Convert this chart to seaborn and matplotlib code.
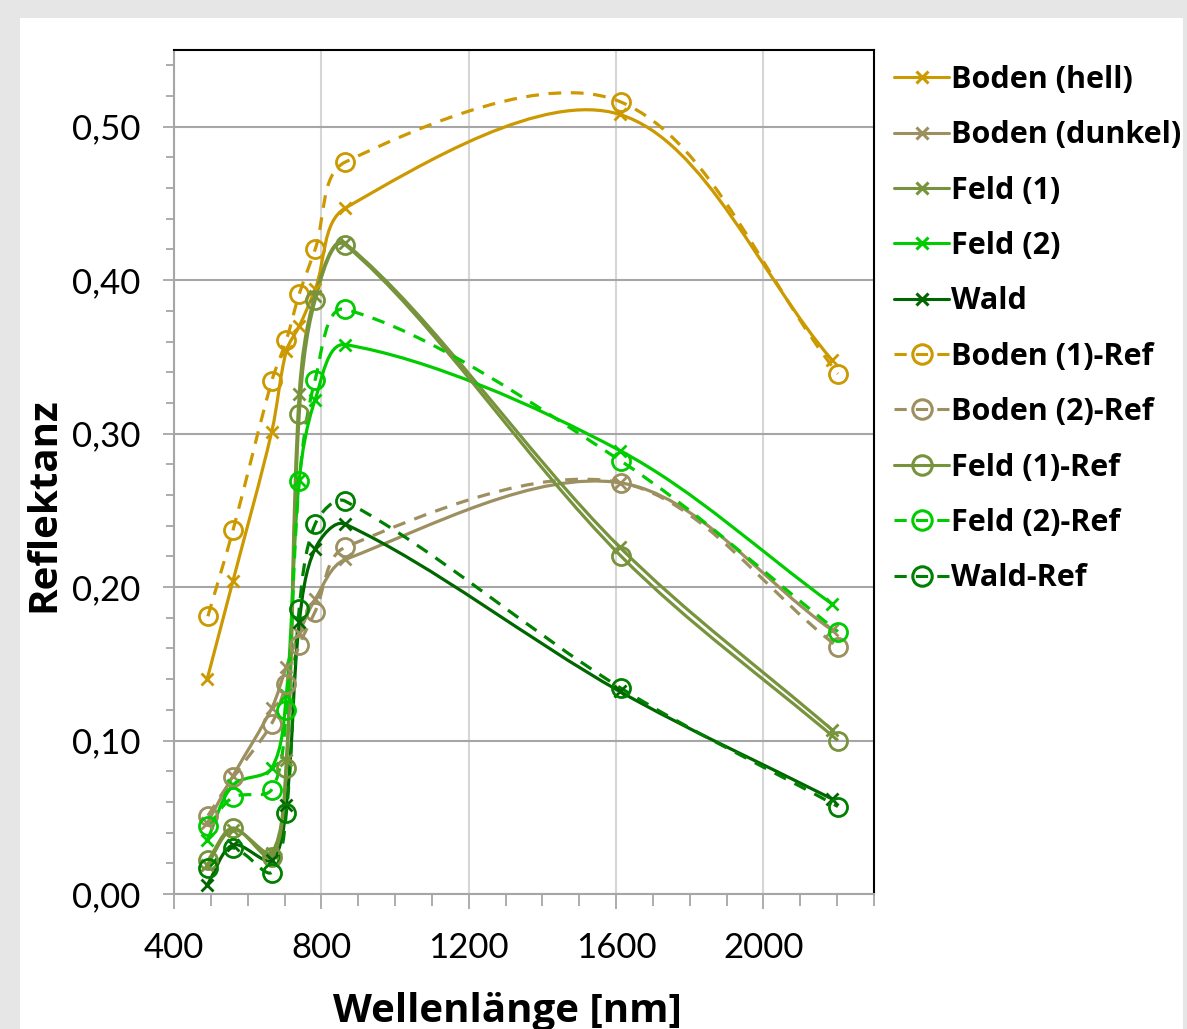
import numpy as np
import pandas as pd
import seaborn as sns
import matplotlib.pyplot as plt
from matplotlib.path import Path
from matplotlib.patches import PathPatch, Rectangle
from matplotlib.lines import Line2D
from matplotlib.ticker import MultipleLocator, FuncFormatter
from matplotlib import font_manager

# Kanal-Wellenlaengen (nm): Messung / Referenz
wl_mess = [490, 560, 665, 705, 740, 783, 865, 1610, 2186]
wl_ref = [492, 560, 665, 705, 740, 783, 865, 1614, 2202]

boden_hell = [0.140, 0.204, 0.301, 0.354, 0.370, 0.394, 0.447, 0.508, 0.348]
boden_dunkel = [0.046, 0.077, 0.121, 0.148, 0.170, 0.192, 0.218, 0.268, 0.172]
feld_1 = [0.019, 0.042, 0.027, 0.087, 0.326, 0.390, 0.424, 0.226, 0.107]
feld_2 = [0.035, 0.071, 0.082, 0.130, 0.270, 0.322, 0.358, 0.289, 0.189]
wald = [0.006, 0.032, 0.022, 0.058, 0.177, 0.225, 0.241, 0.132, 0.062]

boden_1_ref = [0.181, 0.237, 0.334, 0.361, 0.391, 0.420, 0.477, 0.516, 0.339]
boden_2_ref = [0.051, 0.076, 0.111, 0.137, 0.162, 0.184, 0.226, 0.268, 0.161]
feld_1_ref = [0.022, 0.043, 0.024, 0.082, 0.313, 0.387, 0.423, 0.220, 0.100]
feld_2_ref = [0.044, 0.063, 0.068, 0.120, 0.269, 0.335, 0.381, 0.282, 0.171]
wald_ref = [0.017, 0.030, 0.014, 0.053, 0.186, 0.241, 0.256, 0.134, 0.057]

GOLD, KHAKI, OLIVE, GREEN, DARK, DARK2 = '#CC9900', '#9C9060', '#77933C', '#00CC00', '#006600', '#008000'
DASH = (0, (4, 3))

# name, x, y, colour, marker, linestyle
series = [
    ('Boden (hell)', wl_mess, boden_hell, GOLD, 'x', '-'),
    ('Boden (dunkel)', wl_mess, boden_dunkel, KHAKI, 'x', '-'),
    ('Feld (1)', wl_mess, feld_1, OLIVE, 'x', '-'),
    ('Feld (2)', wl_mess, feld_2, GREEN, 'x', '-'),
    ('Wald', wl_mess, wald, DARK, 'x', '-'),
    ('Boden (1)-Ref', wl_ref, boden_1_ref, GOLD, 'o', DASH),
    ('Boden (2)-Ref', wl_ref, boden_2_ref, KHAKI, 'o', DASH),
    ('Feld (1)-Ref', wl_ref, feld_1_ref, OLIVE, 'o', '-'),
    ('Feld (2)-Ref', wl_ref, feld_2_ref, GREEN, 'o', DASH),
    ('Wald-Ref', wl_ref, wald_ref, DARK2, 'o', DASH),
]

df = pd.concat([pd.DataFrame({'Wellenlänge': x, 'Reflektanz': y, 'Serie': name})
                for name, x, y, *_ in series], ignore_index=True)

sns.set_style('white')
names = {f.name for f in font_manager.fontManager.ttflist}
tick_family = 'Liberation Sans Narrow' if 'Liberation Sans Narrow' in names else 'Lato'
bold_family = ['Open Sans', 'DejaVu Sans']
plt.rcParams['font.family'] = bold_family
plt.rcParams['text.color'] = 'black'
plt.rcParams['axes.labelcolor'] = 'black'


def smooth_path(ax, xs, ys):
    # excel-like smoothed line: cubic bezier, chord weighted tangents in screen space
    pts = ax.transData.transform(np.column_stack([xs, ys]))
    n = len(pts)
    verts, codes = [pts[0]], [Path.MOVETO]
    for i in range(n - 1):
        p0, p1 = pts[max(i - 1, 0)], pts[i]
        p2, p3 = pts[i + 1], pts[min(i + 2, n - 1)]
        d01 = np.hypot(*(p1 - p0))
        d12 = np.hypot(*(p2 - p1))
        d23 = np.hypot(*(p3 - p2))
        c1 = p1 + (p2 - p0) * d12 / (d01 + d12) / 3
        c2 = p2 - (p3 - p1) * d12 / (d12 + d23) / 3
        verts += [c1, c2, p2]
        codes += [Path.CURVE4] * 3
    return Path(ax.transData.inverted().transform(np.array(verts)), codes)


fig = plt.figure(figsize=(11.87, 10.29), dpi=100, facecolor='#E6E6E6')
fig.add_artist(Rectangle((20 / 1187, 0), 1163 / 1187, 1 - 18 / 1029, transform=fig.transFigure,
                         facecolor='white', edgecolor='none', zorder=-5))
ax = fig.add_axes([174 / 1187, 1 - 894 / 1029, 700 / 1187, 844 / 1029])
ax.set_xlim(400, 2300)
ax.set_ylim(0, 0.55)

handles = []
for name, x, y, col, mk, ls in series:
    sub = df[df['Serie'] == name]
    ax.add_patch(PathPatch(smooth_path(ax, sub['Wellenlänge'], sub['Reflektanz']), fill=False,
                           edgecolor=col, lw=2.3, linestyle=ls, capstyle='butt', joinstyle='round'))
    if mk == 'o':
        sns.lineplot(data=sub, x='Wellenlänge', y='Reflektanz', ax=ax, estimator=None, sort=False,
                     color=col, marker='o', linestyle='', markersize=13, mfc='none', mec=col, mew=2)
        handles.append(Line2D([], [], color=col, lw=2.2, ls=ls, marker='o', ms=14, mfc='none', mew=2.2))
    else:
        sns.lineplot(data=sub, x='Wellenlänge', y='Reflektanz', ax=ax, estimator=None, sort=False,
                     color=col, marker='x', linestyle='', markersize=8, mec=col, mew=2)
        handles.append(Line2D([], [], color=col, lw=2.2, ls=ls, marker='x', ms=9, mew=2.2))

ax.set_xlim(400, 2300)
ax.set_ylim(0, 0.55)
ax.xaxis.set_major_locator(MultipleLocator(400))
ax.xaxis.set_minor_locator(MultipleLocator(100))
ax.yaxis.set_major_locator(MultipleLocator(0.1))
ax.yaxis.set_minor_locator(MultipleLocator(0.02))
ax.yaxis.set_major_formatter(FuncFormatter(lambda v, p: f'{v:.2f}'.replace('.', ',')))

ax.yaxis.grid(True, which='major', color='#A6A6A6', lw=1.5)
ax.xaxis.grid(True, which='major', color='#D6D6D6', lw=1.5)
ax.set_axisbelow(True)
for side in ['left', 'bottom']:
    ax.spines[side].set_color('#A6A6A6')
    ax.spines[side].set_linewidth(1.5)
for side in ['top', 'right']:
    ax.spines[side].set_color('black')
    ax.spines[side].set_linewidth(1.5)

ax.tick_params(axis='both', which='both', direction='out', color='#A6A6A6', width=1.3,
               left=True, bottom=True, labelsize=25, labelcolor='black')
ax.tick_params(axis='y', which='major', length=8, pad=16)
ax.tick_params(axis='y', which='minor', length=6)
ax.tick_params(axis='x', which='major', length=11, pad=16)
ax.tick_params(axis='x', which='minor', length=8.5)
for lab in ax.get_xticklabels() + ax.get_yticklabels():
    lab.set_family(tick_family)

ax.set_xlabel('Wellenlänge [nm]', fontsize=29, fontweight='bold')
ax.set_ylabel('Reflektanz', fontsize=29, fontweight='bold')
ax.xaxis.set_label_coords(0.476, -0.116)
ax.yaxis.set_label_coords(-0.158, 0.461)

fig.legend(handles, [s[0] for s in series], loc='upper left',
           bbox_to_anchor=(894 / 1187, 1 - 65 / 1029), frameon=False, numpoints=1,
           prop={'family': bold_family, 'weight': 'bold', 'size': 22},
           handlelength=1.8, handletextpad=0.05, labelspacing=0.83, borderpad=0, borderaxespad=0)

fig.savefig('out.png', dpi=100, facecolor=fig.get_facecolor())
